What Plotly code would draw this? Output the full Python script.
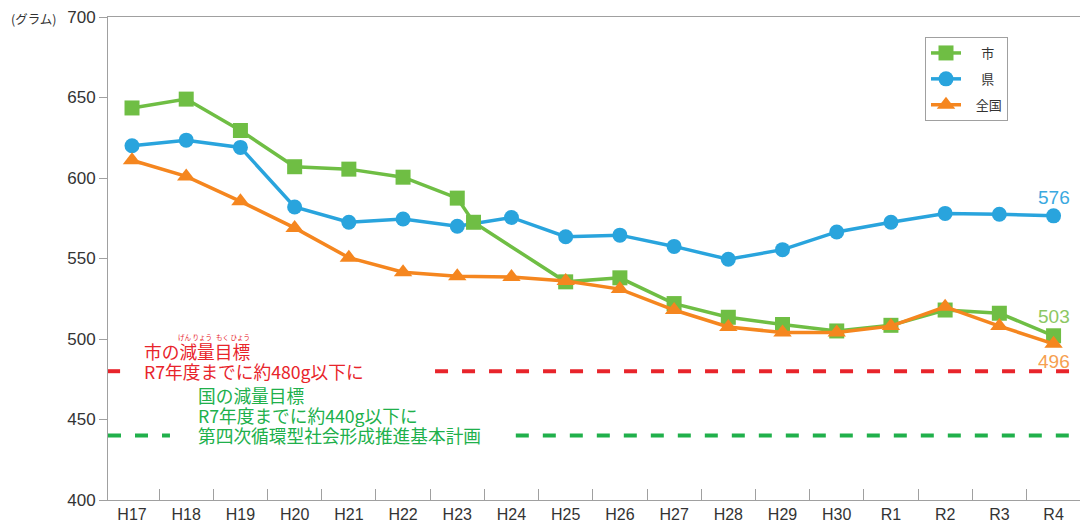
import plotly.graph_objects as go

# ---------------- data ----------------
years = ["H17", "H18", "H19", "H20", "H21", "H22", "H23", "H24", "H25",
         "H26", "H27", "H28", "H29", "H30", "R1", "R2", "R3", "R4"]
year_idx = list(range(len(years)))

# 市 (city): no H24 value; one point is drawn just right of H23 in the original
city_idx = [0, 1, 2, 3, 4, 5, 6, 6.3, 8, 9, 10, 11, 12, 13, 14, 15, 16, 17]
city = [643.5, 649, 629.5, 607, 605.5, 600.5, 587.5, 572.5, 535.5, 538,
        522, 513.5, 509, 505, 508.5, 518, 516, 502]
pref = [620, 623.5, 619, 582, 572.5, 574.5, 570, 575.5, 563.5, 564.5,
        557.5, 549.5, 555.5, 566.5, 572.5, 578, 577.5, 576.5]
national = [611, 601, 585.5, 569, 550.5, 541.5, 539, 538.5, 536, 531,
            518, 507.5, 504, 504, 508, 520, 508, 497]

names = ["市", "県", "全国"]
last_labels = ["503", "576", "496"]

city_target = 480
nation_target = 440

GREEN = "#6fbe44"
BLUE = "#29a4dd"
ORANGE = "#f5861f"
RED = "#e8242b"
DGREEN = "#20b04b"

XMIN, XMAX = -0.443, 17.58
OFF = 8  # page body margin

fig = go.Figure()

# draw order: blue, green, orange (legend order via legendrank)
fig.add_trace(go.Scatter(
    x=year_idx, y=pref, name="\u2003\u2006" + names[1], mode="lines+markers",
    line=dict(color=BLUE, width=3.5),
    marker=dict(symbol="circle", size=15, color=BLUE),
    legendrank=2, legendgroup="b"))
fig.add_trace(go.Scatter(
    x=city_idx, y=city, name="\u2003\u2006" + names[0], mode="lines+markers",
    line=dict(color=GREEN, width=3.5),
    marker=dict(symbol="square", size=15, color=GREEN),
    legendrank=1, legendgroup="a"))
fig.add_trace(go.Scatter(
    x=year_idx, y=national, name="\u2002\u2005" + names[2], mode="lines+markers",
    line=dict(color=ORANGE, width=3.5),
    marker=dict(symbol="triangle-up", size=16, color=ORANGE),
    legendrank=3, legendgroup="c"))

# target dashed lines (with gaps for the text)
for xs in ([XMIN, -0.22], [5.59, 17.4]):
    fig.add_trace(go.Scatter(x=xs, y=[city_target] * 2, mode="lines",
                             line=dict(color=RED, width=4, dash="13px,14px"),
                             showlegend=False, hoverinfo="skip"))
for xs in ([XMIN, 0.70], [7.08, 17.4]):
    fig.add_trace(go.Scatter(x=xs, y=[nation_target] * 2, mode="lines",
                             line=dict(color=DGREEN, width=4, dash="13px,14px"),
                             showlegend=False, hoverinfo="skip"))

CJK = "Noto Sans CJK JP, Noto Sans, sans-serif"
ann = []
# last-value labels
ann.append(dict(x=year_idx[-1], y=pref[-1], text=last_labels[1], showarrow=False,
                yshift=18, font=dict(size=19, color="#3aa9e0", family="Liberation Sans, Arial")))
ann.append(dict(x=year_idx[-1], y=city[-1], text=last_labels[0], showarrow=False,
                yshift=19, font=dict(size=19, color="#8cc763", family="Liberation Sans, Arial")))
ann.append(dict(x=year_idx[-1], y=national[-1], text=last_labels[2], showarrow=False,
                yshift=-18, font=dict(size=19, color="#f6a050", family="Liberation Sans, Arial")))

PLOT_W = 977.0
PLOT_H = 483.0

def px2paper(px):
    return (px - 108) / PLOT_W

def py2paper(py):
    return (500 - py) / PLOT_H

# target texts
def txt(xp, yv, s, color, size=17.7):
    return dict(xref="paper", yref="y", x=xp, y=yv, text=s, showarrow=False,
                xanchor="left", yanchor="middle",
                font=dict(size=size, color=color, family=CJK))

ann.append(txt(px2paper(142), 492.3, "市の減量目標", RED))
ann.append(txt(px2paper(142), 480.2, "R7年度までに約480g以下に", RED))
ann.append(txt(px2paper(196), 465.0, "国の減量目標", DGREEN))
ann.append(txt(px2paper(196), 452.6, "R7年度までに約440g以下に", DGREEN))
ann.append(txt(px2paper(196), 440.2, "第四次循環型社会形成推進基本計画", DGREEN))

# furigana
for cx, s in ((195, "げん りょう"), (233, "もく ひょう")):
    ann.append(dict(xref="paper", yref="y", x=px2paper(cx), y=501.4, text=s,
                    showarrow=False, xanchor="center", yanchor="middle",
                    font=dict(size=6.5, color=RED, family=CJK)))

# unit label
ann.append(dict(xref="paper", yref="paper", x=px2paper(34), y=py2paper(19),
                text="(グラム)", showarrow=False, xanchor="center", yanchor="middle",
                font=dict(size=12.5, color="#333333", family=CJK)))

fig.update_layout(
    width=1088 - OFF, height=525 - OFF,
    margin=dict(l=108 - OFF, r=3, t=17 - OFF, b=25, autoexpand=False),
    paper_bgcolor="white", plot_bgcolor="white",
    font=dict(family="Liberation Sans, Arial, sans-serif", color="#333333"),
    showlegend=True,
    legend=dict(x=px2paper(925), y=py2paper(37), xanchor="left", yanchor="top",
                bgcolor="white", bordercolor="#a0a0a0", borderwidth=1,
                font=dict(size=13, color="#333333", family=CJK),
                traceorder="grouped", tracegroupgap=6, itemwidth=30),
    annotations=ann,
    xaxis=dict(range=[XMIN, XMAX], tickmode="array", tickvals=year_idx, ticktext=years,
               ticks="", showgrid=False, zeroline=False, automargin=False,
               ticklabeloverflow="allow",
               showline=True, linecolor="#a0a0a0", linewidth=1, mirror=True,
               tickfont=dict(size=16, color="#333333"),
               minor=dict(tickmode="array", tickvals=[i + 0.5 for i in year_idx[:-1]],
                          ticks="inside", ticklen=11, tickwidth=1, tickcolor="#a0a0a0",
                          showgrid=False)),
    yaxis=dict(range=[400, 700], tickmode="linear", tick0=400, dtick=50,
               ticks="outside", ticklen=8, tickwidth=1, tickcolor="#a0a0a0",
               showgrid=False, zeroline=False, automargin=False,
               ticklabeloverflow="allow",
               showline=True, linecolor="#a0a0a0", linewidth=1, mirror=True,
               tickfont=dict(size=17, color="#333333")),
)

fig.write_html("out.html")
